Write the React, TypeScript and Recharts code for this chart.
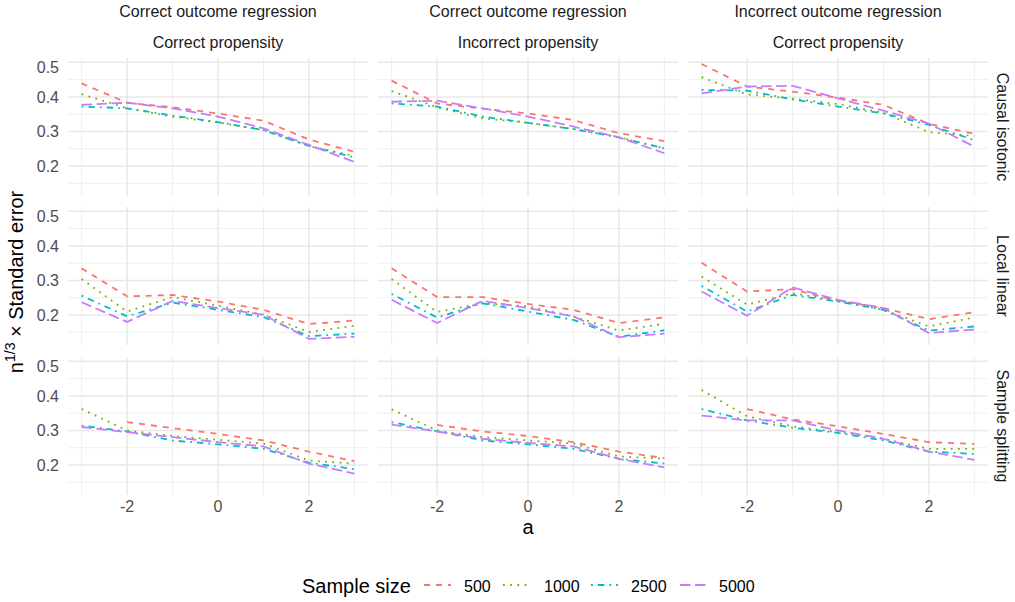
import React from 'react';
import { LineChart, Line, XAxis, YAxis, CartesianGrid } from 'recharts';

// grid of evaluation points
const aValues = [-3, -2, -1, 0, 1, 2, 3];
const sampleSizes = ['500', '1000', '2500', '5000'];

const colTopLabels = ['Correct outcome regression', 'Correct outcome regression', 'Incorrect outcome regression'];
const colBottomLabels = ['Correct propensity', 'Incorrect propensity', 'Correct propensity'];
const rowLabels = ['Causal isotonic', 'Local linear', 'Sample splitting'];

const majorY = [0.2, 0.3, 0.4, 0.5];
const minorY = [0.15, 0.25, 0.35, 0.45];
const majorX = [-2, 0, 2];
const minorX = [-3, -1, 1, 3];

// series per panel, in order 500, 1000, 2500, 5000
const isotonicCC = [
  [0.439, 0.383, 0.37, 0.352, 0.331, 0.277, 0.241],
  [0.408, 0.367, 0.343, 0.326, 0.304, 0.258, 0.229],
  [0.372, 0.367, 0.346, 0.327, 0.304, 0.258, 0.225],
  [0.377, 0.383, 0.367, 0.343, 0.309, 0.261, 0.212],
];
const isotonicCI = [
  [0.447, 0.381, 0.366, 0.352, 0.333, 0.295, 0.272],
  [0.417, 0.37, 0.338, 0.325, 0.307, 0.283, 0.251],
  [0.381, 0.372, 0.343, 0.325, 0.307, 0.283, 0.251],
  [0.386, 0.389, 0.367, 0.343, 0.314, 0.283, 0.237],
];
const isotonicIC = [
  [0.495, 0.43, 0.415, 0.398, 0.377, 0.322, 0.293],
  [0.457, 0.407, 0.395, 0.379, 0.354, 0.298, 0.287],
  [0.42, 0.418, 0.393, 0.372, 0.352, 0.319, 0.275],
  [0.41, 0.43, 0.432, 0.396, 0.36, 0.323, 0.256],
];
const localCC = [
  [0.335, 0.254, 0.258, 0.239, 0.215, 0.174, 0.184],
  [0.304, 0.21, 0.252, 0.227, 0.201, 0.151, 0.169],
  [0.256, 0.196, 0.236, 0.215, 0.194, 0.139, 0.146],
  [0.237, 0.18, 0.241, 0.22, 0.201, 0.131, 0.137],
];
const localCI = [
  [0.335, 0.252, 0.252, 0.232, 0.215, 0.177, 0.193],
  [0.304, 0.209, 0.234, 0.225, 0.196, 0.155, 0.175],
  [0.261, 0.193, 0.234, 0.21, 0.186, 0.137, 0.156],
  [0.244, 0.177, 0.241, 0.22, 0.196, 0.136, 0.146],
];
const localIC = [
  [0.351, 0.268, 0.275, 0.241, 0.22, 0.188, 0.208],
  [0.311, 0.23, 0.263, 0.242, 0.215, 0.167, 0.193],
  [0.284, 0.21, 0.258, 0.239, 0.215, 0.155, 0.167],
  [0.268, 0.198, 0.28, 0.244, 0.22, 0.148, 0.158],
];
const splitCC = [
  [null, 0.324, 0.307, 0.29, 0.271, 0.239, 0.211],
  [0.362, 0.3, 0.284, 0.273, 0.262, 0.213, 0.204],
  [0.314, 0.297, 0.271, 0.26, 0.247, 0.207, 0.188],
  [0.31, 0.295, 0.281, 0.266, 0.254, 0.204, 0.175],
];
const splitCI = [
  [null, 0.316, 0.297, 0.284, 0.266, 0.239, 0.22],
  [0.361, 0.3, 0.281, 0.271, 0.262, 0.225, 0.218],
  [0.324, 0.298, 0.271, 0.26, 0.247, 0.218, 0.204],
  [0.317, 0.297, 0.276, 0.264, 0.254, 0.218, 0.193],
];
const splitIC = [
  [null, 0.362, 0.332, 0.312, 0.29, 0.266, 0.261],
  [0.417, 0.341, 0.312, 0.295, 0.276, 0.247, 0.247],
  [0.362, 0.329, 0.308, 0.293, 0.271, 0.239, 0.232],
  [0.343, 0.329, 0.329, 0.3, 0.276, 0.239, 0.215],
];

const panelRows = [
  [isotonicCC, isotonicCI, isotonicIC],
  [localCC, localCI, localIC],
  [splitCC, splitCI, splitIC],
];

const colors = ['#F8766D', '#7CAE00', '#00BFC4', '#C77CFF'];
const dashes = ['6 6', '1.8 5.4', '1.8 5 6.5 5', '10.5 4.5'];
const LINE_W = 1.8;

const PANEL_W = 300;
const PANEL_H = 138;
const Y_AXIS_W = 60;
const X_AXIS_H = 30;
const colLefts = [68, 378, 688];
const rowTops = [58, 207, 357];
const xDomain = [-3.3, 3.3];
const yDomain = [0.1133, 0.5125];
const FONT = '"Liberation Sans", Arial, sans-serif';

function toRows(series: (number | null)[][]) {
  return aValues.map((a, i) => {
    const row: Record<string, number | null> = { a };
    sampleSizes.forEach((s, k) => {
      row['n' + s] = series[k][i];
    });
    return row;
  });
}

function Panel({ series, left, top, showY, showX }: any) {
  const w = PANEL_W + (showY ? Y_AXIS_W : 0);
  const h = PANEL_H + (showX ? X_AXIS_H : 0);
  return (
    <div style={{ position: 'absolute', left: left - (showY ? Y_AXIS_W : 0), top }}>
      <LineChart width={w} height={h} data={toRows(series)} margin={{ top: 0, right: 0, bottom: 0, left: 0 }}>
        <CartesianGrid horizontalValues={minorY} verticalValues={minorX} stroke="#EBEBEB" strokeWidth={0.8} />
        <CartesianGrid horizontalValues={majorY} verticalValues={majorX} stroke="#E8E8E8" strokeWidth={1.5} />
        <XAxis
          type="number"
          dataKey="a"
          domain={xDomain}
          ticks={majorX}
          allowDataOverflow
          hide={!showX}
          height={X_AXIS_H}
          axisLine={false}
          tickLine={false}
          tickSize={0}
          tickMargin={6}
          tick={{ fill: '#4D4D4D', fontSize: 16, fontFamily: FONT }}
        />
        <YAxis
          type="number"
          domain={yDomain}
          ticks={majorY}
          allowDataOverflow
          hide={!showY}
          width={Y_AXIS_W}
          axisLine={false}
          tickLine={false}
          tickSize={0}
          tickMargin={9}
          tickFormatter={(v: number) => v.toFixed(1)}
          tick={{ fill: '#4D4D4D', fontSize: 16, fontFamily: FONT }}
        />
        {sampleSizes.map((s, k) => (
          <Line
            key={s}
            type="linear"
            dataKey={'n' + s}
            stroke={colors[k]}
            strokeWidth={LINE_W}
            strokeDasharray={dashes[k]}
            dot={false}
            activeDot={false}
            isAnimationActive={false}
          />
        ))}
      </LineChart>
    </div>
  );
}

export default function App() {
  const legendKeys = [424, 503, 591, 680];
  const legendLabels = [464, 544, 631, 719];
  return (
    <div
      style={{
        position: 'absolute',
        left: 0,
        top: 0,
        width: 1015,
        height: 602,
        background: '#fff',
        fontFamily: FONT,
        overflow: 'hidden',
      }}
    >
      {colLefts.map((x, c) => (
        <React.Fragment key={'strip' + c}>
          <div style={{ position: 'absolute', left: x, width: PANEL_W, top: 4, textAlign: 'center', fontSize: 16, lineHeight: '16px', color: '#1A1A1A', whiteSpace: 'nowrap' }}>
            {colTopLabels[c]}
          </div>
          <div style={{ position: 'absolute', left: x, width: PANEL_W, top: 34.5, textAlign: 'center', fontSize: 16, lineHeight: '16px', color: '#1A1A1A', whiteSpace: 'nowrap' }}>
            {colBottomLabels[c]}
          </div>
        </React.Fragment>
      ))}

      {rowTops.map((y, r) => (
        <div
          key={'rstrip' + r}
          style={{
            position: 'absolute',
            left: 1002,
            top: y + PANEL_H / 2,
            transform: 'translate(-50%, -50%) rotate(90deg)',
            fontSize: 16,
            lineHeight: '16px',
            color: '#1A1A1A',
            whiteSpace: 'nowrap',
          }}
        >
          {rowLabels[r]}
        </div>
      ))}

      {panelRows.map((row, r) =>
        row.map((series, c) => (
          <Panel
            key={r + '-' + c}
            series={series}
            left={colLefts[c]}
            top={rowTops[r]}
            showY={c === 0}
            showX={r === 2}
          />
        ))
      )}

      {/* axis titles */}
      <div
        style={{
          position: 'absolute',
          left: 16,
          top: 282,
          transform: 'translate(-50%, -50%) rotate(-90deg)',
          fontSize: 20,
          lineHeight: '20px',
          whiteSpace: 'nowrap',
          color: '#000',
        }}
      >
        n<sup style={{ fontSize: 14, lineHeight: 0 }}>1/3</sup> × Standard error
      </div>
      <div style={{ position: 'absolute', left: 428, width: 200, top: 517, textAlign: 'center', fontSize: 20, lineHeight: '20px', color: '#000' }}>
        a
      </div>

      {/* legend */}
      <div style={{ position: 'absolute', left: 302, top: 576, fontSize: 20, lineHeight: '20px', color: '#000', whiteSpace: 'nowrap' }}>
        Sample size
      </div>
      {sampleSizes.map((s, k) => (
        <React.Fragment key={'leg' + s}>
          <svg style={{ position: 'absolute', left: legendKeys[k], top: 580 }} width={27} height={10}>
            <line x1={0} x2={27} y1={5} y2={5} stroke={colors[k]} strokeWidth={LINE_W} strokeDasharray={dashes[k]} />
          </svg>
          <div style={{ position: 'absolute', left: legendLabels[k], top: 579, fontSize: 16, lineHeight: '16px', color: '#000' }}>
            {s}
          </div>
        </React.Fragment>
      ))}
    </div>
  );
}
